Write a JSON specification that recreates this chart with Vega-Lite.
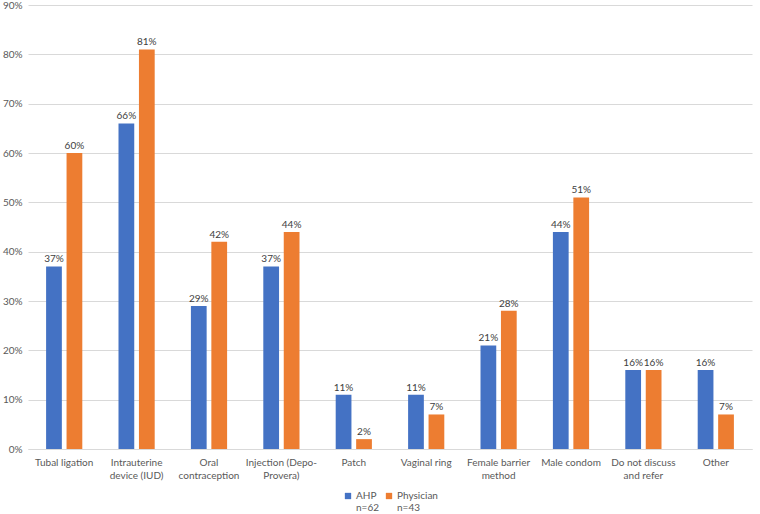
{
  "$schema": "https://vega.github.io/schema/vega-lite/v6.json",
  "autosize": {"type": "none"},
  "width": 724,
  "height": 444,
  "padding": {"left": 28, "top": 5, "right": 8, "bottom": 65},
  "background": "white",
  "config": {
    "font": "Lato",
    "view": {"stroke": null}
  },
  "data": {
    "values": [
      {"method": "Tubal ligation", "group": "AHP|n=62", "value": 0.37},
      {"method": "Tubal ligation", "group": "Physician|n=43", "value": 0.60},
      {"method": "Intrauterine|device (IUD)", "group": "AHP|n=62", "value": 0.66},
      {"method": "Intrauterine|device (IUD)", "group": "Physician|n=43", "value": 0.81},
      {"method": "Oral|contraception", "group": "AHP|n=62", "value": 0.29},
      {"method": "Oral|contraception", "group": "Physician|n=43", "value": 0.42},
      {"method": "Injection (Depo-|Provera)", "group": "AHP|n=62", "value": 0.37},
      {"method": "Injection (Depo-|Provera)", "group": "Physician|n=43", "value": 0.44},
      {"method": "Patch", "group": "AHP|n=62", "value": 0.11},
      {"method": "Patch", "group": "Physician|n=43", "value": 0.02},
      {"method": "Vaginal ring", "group": "AHP|n=62", "value": 0.11},
      {"method": "Vaginal ring", "group": "Physician|n=43", "value": 0.07},
      {"method": "Female barrier|method", "group": "AHP|n=62", "value": 0.21},
      {"method": "Female barrier|method", "group": "Physician|n=43", "value": 0.28},
      {"method": "Male condom", "group": "AHP|n=62", "value": 0.44},
      {"method": "Male condom", "group": "Physician|n=43", "value": 0.51},
      {"method": "Do not discuss|and refer", "group": "AHP|n=62", "value": 0.16},
      {"method": "Do not discuss|and refer", "group": "Physician|n=43", "value": 0.16},
      {"method": "Other", "group": "AHP|n=62", "value": 0.16},
      {"method": "Other", "group": "Physician|n=43", "value": 0.07}
    ]
  },
  "encoding": {
    "x": {
      "field": "method",
      "type": "nominal",
      "sort": null,
      "scale": {"paddingInner": 0.5, "paddingOuter": 0.25},
      "axis": {
        "title": null,
        "labelAngle": 0,
        "labelExpr": "split(datum.label, '|')",
        "labelFontSize": 10,
        "labelColor": "#595959",
        "labelPadding": 8,
        "labelLineHeight": 13,
        "ticks": false,
        "domainColor": "#d9d9d9",
        "grid": false
      }
    },
    "xOffset": {
      "field": "group",
      "type": "nominal",
      "scale": {"paddingInner": 0.23}
    },
    "y": {
      "field": "value",
      "type": "quantitative",
      "scale": {"domain": [0, 0.9]},
      "axis": {
        "title": null,
        "values": [0, 0.1, 0.2, 0.3, 0.4, 0.5, 0.6, 0.7, 0.8, 0.9],
        "format": ".0%",
        "labelFontSize": 10,
        "labelColor": "#595959",
        "labelPadding": 6,
        "domain": false,
        "ticks": false,
        "gridColor": "#d9d9d9"
      }
    }
  },
  "layer": [
    {
      "mark": {"type": "bar"},
      "encoding": {
        "color": {
          "field": "group",
          "type": "nominal",
          "scale": {"domain": ["AHP|n=62", "Physician|n=43"], "range": ["#4472C4", "#ED7D31"]},
          "legend": {
            "title": null,
            "orient": "none",
            "legendX": 315,
            "legendY": 486,
            "direction": "horizontal",
            "symbolType": "square",
            "symbolSize": 40,
            "symbolStrokeWidth": 0,
            "labelExpr": "split(datum.label, '|')",
            "labelFontSize": 10,
            "labelColor": "#595959",
            "labelLineHeight": 13,
            "labelOffset": 3,
            "columnPadding": 5
          }
        }
      }
    },
    {
      "mark": {"type": "text", "dy": -7, "fontSize": 10, "color": "#404040"},
      "encoding": {
        "text": {"field": "value", "type": "quantitative", "format": ".0%"},
        "detail": {"field": "group"}
      }
    }
  ]
}
